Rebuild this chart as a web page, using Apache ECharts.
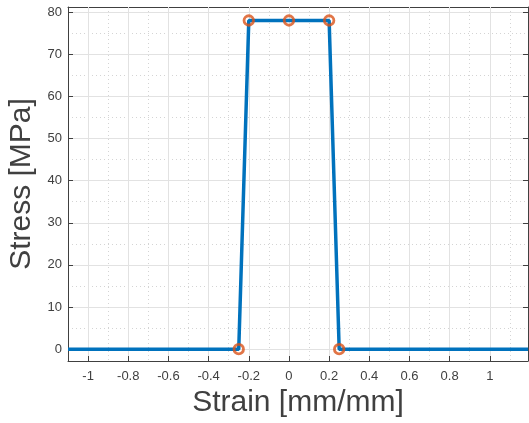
<!DOCTYPE html>
<html>
<head>
<meta charset="utf-8">
<script src="https://cdn.jsdelivr.net/npm/echarts@6/dist/echarts.min.js"></script>
<style>
html,body{margin:0;padding:0;background:#fff;}
#chart{width:529px;height:423px;}
</style>
</head>
<body>
<div id="chart"></div>
<script>
// Data
var lineStrain = [-1.1, -0.25, -0.2, 0, 0.2, 0.25, 1.19];
var lineStress = [0, 0, 78, 78, 78, 0, 0];
var markerStrain = [-0.25, -0.2, 0, 0.2, 0.25];
var markerStress = [0, 78, 78, 78, 0];
var xTicks = [-1, -0.8, -0.6, -0.4, -0.2, 0, 0.2, 0.4, 0.6, 0.8, 1];
var xMinor = [-0.9, -0.7, -0.5, -0.3, -0.1, 0.1, 0.3, 0.5, 0.7, 0.9, 1.1];
var yTicks = [0, 10, 20, 30, 40, 50, 60, 70, 80];
var yMinor = [5, 15, 25, 35, 45, 55, 65, 75];

var X_MIN = -1.1, X_MAX = 1.19, Y_MIN = -2.8, Y_MAX = 81.2;
var axisColor = '#404040';
var font = 'Liberation Sans, Arial, Helvetica, sans-serif';

function pairs(a, b) { return a.map(function (v, i) { return [v, b[i]]; }); }

var chart = echarts.init(document.getElementById('chart'), null, {renderer: 'canvas'});
chart.setOption({
  animation: false,
  backgroundColor: '#fff',
  grid: {left: 68, top: 7, right: 1, bottom: 62, containLabel: false, outerBoundsMode: 'none'},
  xAxis: [
    {
      type: 'value', position: 'bottom', min: X_MIN, max: X_MAX,
      name: 'Strain [mm/mm]', nameLocation: 'middle', nameGap: 26,
      nameTextStyle: {fontSize: 30, color: axisColor, fontFamily: font},
      axisLine: {show: true, onZero: false, lineStyle: {color: axisColor, width: 1}},
      axisTick: {show: true, inside: true, length: 5, customValues: xTicks, lineStyle: {color: axisColor}},
      axisLabel: {show: true, customValues: xTicks, margin: 9, fontSize: 13, color: axisColor, fontFamily: font},
      splitLine: {show: true, lineStyle: {color: '#e2e2e2', width: 1}},
      z: 2
    },
    {
      type: 'value', position: 'top', min: X_MIN, max: X_MAX,
      axisLine: {show: true, onZero: false, lineStyle: {color: axisColor, width: 1}},
      axisTick: {show: true, inside: true, length: 5, customValues: xTicks, lineStyle: {color: axisColor}},
      axisLabel: {show: false},
      splitLine: {show: false}
    },
    {
      type: 'value', position: 'top', min: X_MIN, max: X_MAX,
      axisLine: {show: false},
      axisTick: {show: false, customValues: xMinor},
      axisLabel: {show: false},
      splitLine: {show: true, lineStyle: {color: '#d4d4d4', width: 1, type: [1, 3]}}
    }
  ],
  yAxis: [
    {
      type: 'value', position: 'left', min: Y_MIN, max: Y_MAX,
      name: 'Stress [MPa]', nameLocation: 'middle', nameGap: 23,
      nameTextStyle: {fontSize: 30, color: axisColor, fontFamily: font},
      axisLine: {show: true, onZero: false, lineStyle: {color: axisColor, width: 1}},
      axisTick: {show: true, inside: true, length: 5, customValues: yTicks, lineStyle: {color: axisColor}},
      axisLabel: {show: true, customValues: yTicks, margin: 6, fontSize: 13, color: axisColor, fontFamily: font},
      splitLine: {show: true, lineStyle: {color: '#e2e2e2', width: 1}}
    },
    {
      type: 'value', position: 'right', min: Y_MIN, max: Y_MAX,
      axisLine: {show: true, onZero: false, lineStyle: {color: axisColor, width: 1}},
      axisTick: {show: true, inside: true, length: 5, customValues: yTicks, lineStyle: {color: axisColor}},
      axisLabel: {show: false},
      splitLine: {show: false}
    },
    {
      type: 'value', position: 'right', min: Y_MIN, max: Y_MAX,
      axisLine: {show: false},
      axisTick: {show: false, customValues: yMinor},
      axisLabel: {show: false},
      splitLine: {show: true, lineStyle: {color: '#d4d4d4', width: 1, type: [1, 3]}}
    }
  ],
  series: [
    {
      type: 'line', xAxisIndex: 0, yAxisIndex: 0,
      data: pairs(lineStrain, lineStress),
      showSymbol: false, symbol: 'none',
      lineStyle: {color: '#0072BD', width: 3.5},
      clip: true, z: 3
    },
    {
      type: 'scatter', xAxisIndex: 0, yAxisIndex: 0,
      data: pairs(markerStrain, markerStress),
      symbol: 'circle', symbolSize: 9.5,
      itemStyle: {color: 'rgba(0,0,0,0)', borderColor: '#D95319', borderWidth: 2.8},
      clip: false, z: 4
    }
  ]
});
</script>
</body>
</html>
